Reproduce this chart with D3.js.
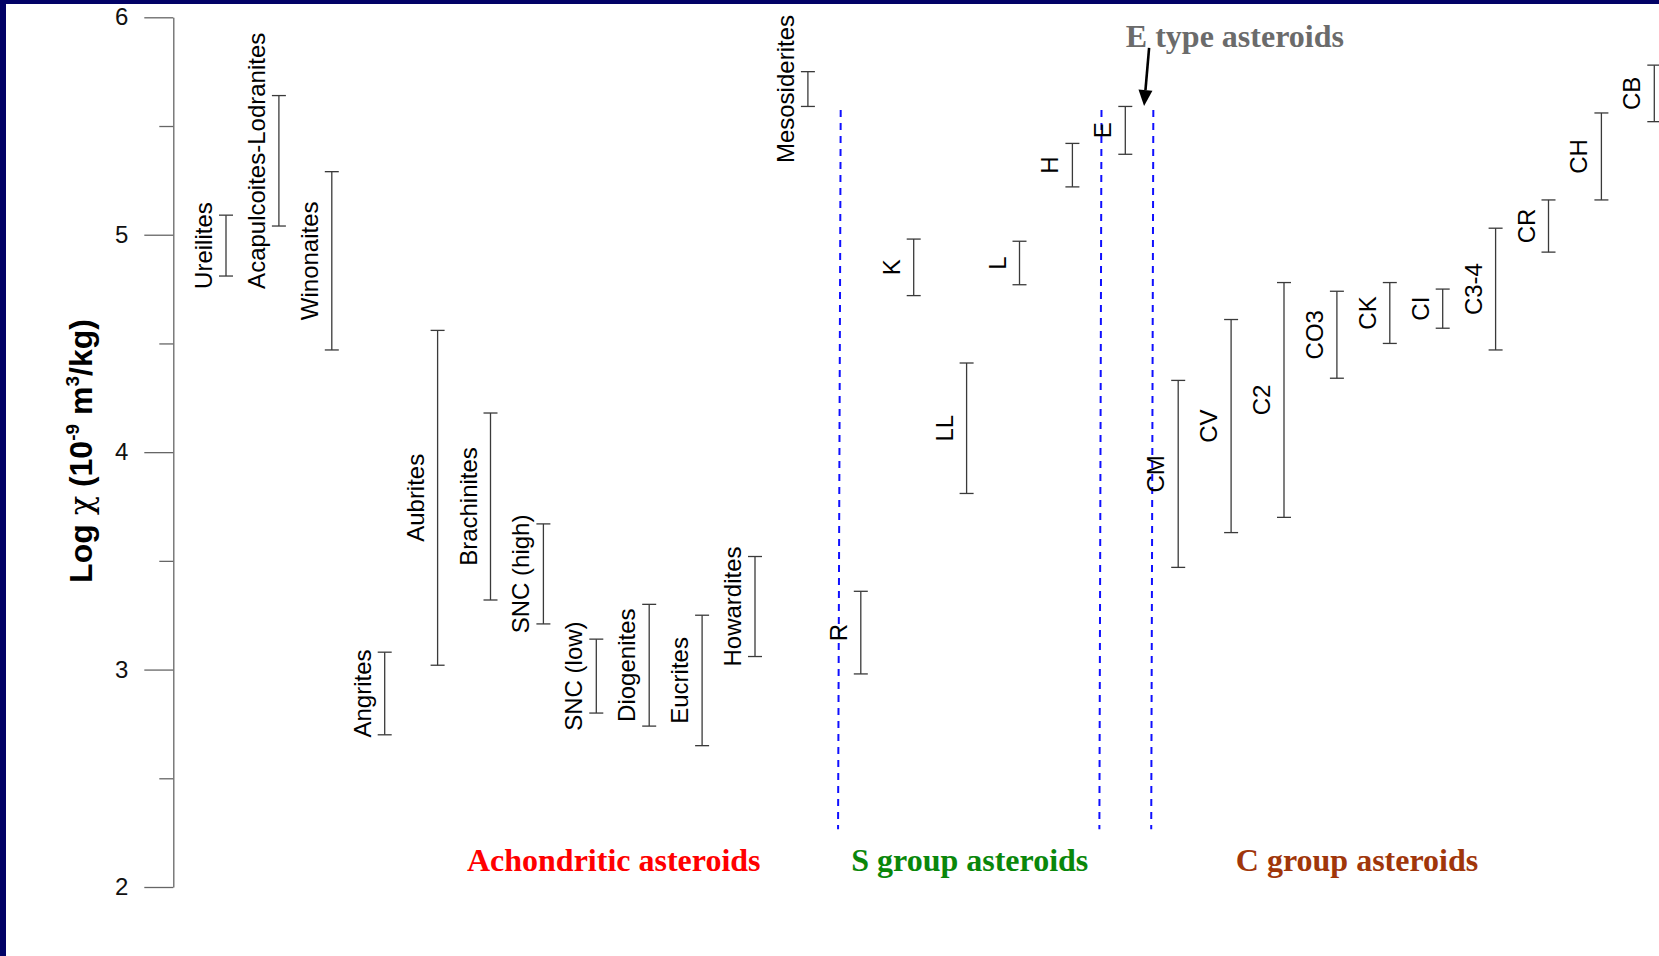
<!DOCTYPE html>
<html>
<head>
<meta charset="utf-8">
<script src="https://cdn.jsdelivr.net/npm/d3@7"></script>
<style>
  body { margin: 0; background: #fff; }
  svg { display: block; }
</style>
</head>
<body>
<div class="chart"></div>
<script>
// meteorite classes, left to right
const categories = [
  "Ureilites", "Acapulcoites-Lodranites", "Winonaites", "Angrites", "Aubrites",
  "Brachinites", "SNC (high)", "SNC (low)", "Diogenites", "Eucrites", "Howardites",
  "Mesosiderites",
  "R", "K", "LL", "L", "H", "E",
  "CM", "CV", "C2", "CO3", "CK", "CI", "C3-4", "CR", "CH", "CB"
];
// log chi range, lower and upper ends
const lowValues = [
  4.81, 5.04, 4.47, 2.70, 3.02, 3.32, 3.21, 2.80, 2.74, 2.65, 3.06, 5.59,
  2.98, 4.72, 3.81, 4.77, 5.22, 5.37,
  3.47, 3.63, 3.70, 4.34, 4.50, 4.57, 4.47, 4.92, 5.16, 5.52
];
const highValues = [
  5.09, 5.64, 5.29, 3.08, 4.56, 4.18, 3.67, 3.14, 3.30, 3.25, 3.52, 5.75,
  3.36, 4.98, 4.41, 4.97, 5.42, 5.59,
  4.33, 4.61, 4.78, 4.74, 4.78, 4.75, 5.03, 5.16, 5.56, 5.78
];
const majorTicks = [2, 3, 4, 5, 6];
const minorTicks = [2.5, 3.5, 4.5, 5.5];
const groupNames = ["Achondritic asteroids", "S group asteroids", "C group asteroids"];
const annotationText = "E type asteroids";

const width = 1659, height = 956;

const svg = d3.select(".chart").append("svg")
  .attr("width", width)
  .attr("height", height);

svg.append("rect").attr("width", width).attr("height", height).attr("fill", "#fff");
// navy frame bits
svg.append("rect").attr("x", 0).attr("y", 0).attr("width", width).attr("height", 4).attr("fill", "#020266");
svg.append("rect").attr("x", 0).attr("y", 0).attr("width", 6).attr("height", height).attr("fill", "#020266");

const x = d3.scaleLinear().domain([0, categories.length - 1]).range([226, 1654.3]);
const y = d3.scaleLinear().domain([2, 6]).range([887, 17.3]);

// y axis
const axisG = svg.append("g").attr("transform", "translate(173.3,0)");
axisG.call(d3.axisLeft(y).tickValues(majorTicks).tickSize(29).tickSizeOuter(0).tickPadding(16).tickFormat(d3.format("d")));
axisG.append("g").call(d3.axisLeft(y).tickValues(minorTicks).tickSize(14).tickSizeOuter(0).tickFormat(""))
  .select(".domain").remove();
axisG.selectAll("path, line").attr("stroke", "#666").attr("stroke-width", 1.3);
axisG.selectAll("text")
  .attr("font-family", "'Liberation Sans', Arial, sans-serif")
  .attr("font-size", 24)
  .attr("fill", "#111");

const yLabel = svg.append("text")
  .attr("transform", "translate(92,451) rotate(-90)")
  .attr("text-anchor", "middle")
  .attr("font-family", "'Liberation Sans', Arial, sans-serif")
  .attr("font-size", 32)
  .attr("font-weight", "bold")
  .attr("fill", "#000");
yLabel.append("tspan").text("Log ");
yLabel.append("tspan").attr("font-weight", "normal").attr("font-family", "'DejaVu Serif', serif").text("χ");
yLabel.append("tspan").text(" (10");
yLabel.append("tspan").attr("font-size", 19).attr("dy", -13).text("-9");
yLabel.append("tspan").attr("dy", 13).text(" m");
yLabel.append("tspan").attr("font-size", 19).attr("dy", -13).text("3");
yLabel.append("tspan").attr("dy", 13).text("/kg)");

// group dividers (dashed blue)
const dividerTop = [11.62, 16.55, 17.53];
const dividerBottom = [11.57, 16.51, 17.49];
svg.append("g")
  .selectAll("line")
  .data(dividerTop)
  .join("line")
  .attr("x1", d => x(d))
  .attr("x2", (d, i) => x(dividerBottom[i]))
  .attr("y1", y(5.574))
  .attr("y2", y(2.266))
  .attr("stroke", "#1010ff")
  .attr("stroke-width", 2)
  .attr("stroke-dasharray", "7,6");

// error bars
const rows = categories.map((name, i) => ({ name, i, lo: lowValues[i], hi: highValues[i] }));
const cap = 7;
const bars = svg.append("g")
  .attr("stroke", "#3a3a3a")
  .attr("stroke-width", 1.3)
  .selectAll("g")
  .data(rows)
  .join("g");
bars.append("line")
  .attr("x1", d => x(d.i)).attr("x2", d => x(d.i))
  .attr("y1", d => y(d.hi)).attr("y2", d => y(d.lo));
bars.append("line")
  .attr("x1", d => x(d.i) - cap).attr("x2", d => x(d.i) + cap)
  .attr("y1", d => y(d.hi)).attr("y2", d => y(d.hi));
bars.append("line")
  .attr("x1", d => x(d.i) - cap).attr("x2", d => x(d.i) + cap)
  .attr("y1", d => y(d.lo)).attr("y2", d => y(d.lo));

svg.append("g")
  .attr("font-family", "'Liberation Sans', Arial, sans-serif")
  .attr("font-size", 24)
  .attr("text-anchor", "middle")
  .attr("fill", "#000")
  .selectAll("text")
  .data(rows)
  .join("text")
  .attr("transform", d => `translate(${x(d.i) - 14},${(y(d.hi) + y(d.lo)) / 2}) rotate(-90)`)
  .text(d => d.name);

// group titles
const groupX = [7.33, 14.06, 21.38];
const groupColor = ["#ff0000", "#0a870a", "#a0360a"];
svg.append("g")
  .attr("font-family", "'Liberation Serif', 'Times New Roman', serif")
  .attr("font-size", 32)
  .attr("font-weight", "bold")
  .attr("text-anchor", "middle")
  .selectAll("text")
  .data(groupNames)
  .join("text")
  .attr("x", (d, i) => x(groupX[i]))
  .attr("y", y(2.075))
  .attr("fill", (d, i) => groupColor[i])
  .text(d => d);

// E type annotation + arrow
svg.append("text")
  .attr("x", x(17.01))
  .attr("y", y(5.865))
  .attr("font-family", "'Liberation Serif', 'Times New Roman', serif")
  .attr("font-size", 32)
  .attr("font-weight", "bold")
  .attr("fill", "#6b6b6b")
  .text(annotationText);

const ax1 = x(17.45), ay1 = y(5.859), ax2 = x(17.355), ay2 = y(5.592);
const ang = Math.atan2(ay2 - ay1, ax2 - ax1);
const headLen = 16, headW = 7;
const bx = ax2 - headLen * Math.cos(ang), by = ay2 - headLen * Math.sin(ang);
svg.append("line")
  .attr("x1", ax1).attr("y1", ay1).attr("x2", bx).attr("y2", by)
  .attr("stroke", "#000").attr("stroke-width", 2.6);
svg.append("polygon")
  .attr("points", [
    [ax2, ay2],
    [bx + headW * Math.sin(ang), by - headW * Math.cos(ang)],
    [bx - headW * Math.sin(ang), by + headW * Math.cos(ang)]
  ].map(p => p.join(",")).join(" "))
  .attr("fill", "#000");
</script>
</body>
</html>
